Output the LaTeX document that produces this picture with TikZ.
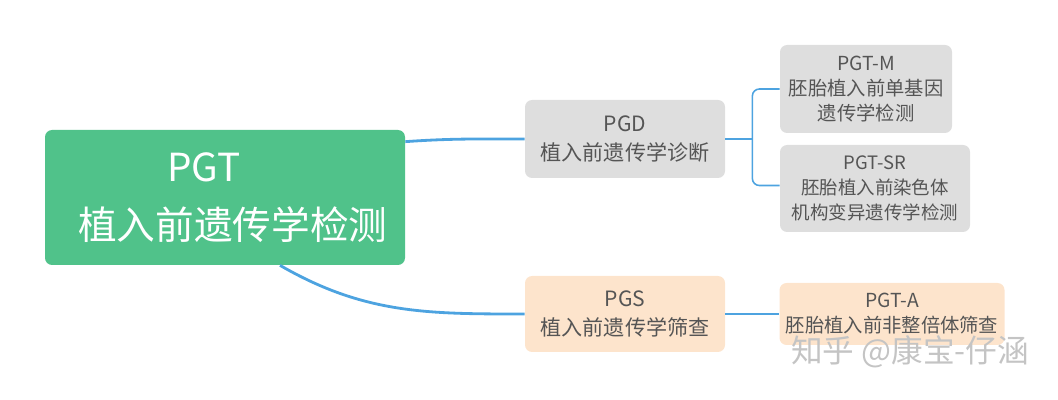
\documentclass[tikz,border=0pt]{standalone}
\usepackage{fontspec}
\setmainfont{Noto Sans CJK SC}
\usepackage{xcolor}
\usetikzlibrary{positioning,calc}
\definecolor{rootgreen}{HTML}{50C28A}
\definecolor{cardgray}{HTML}{DEDEDE}
\definecolor{cardpeach}{HTML}{FDE4CC}
\definecolor{inkgray}{HTML}{555555}
\definecolor{linkblue}{HTML}{4DA3E0}
\definecolor{markgray}{HTML}{C4C4C4}
\tikzset{
  rootcard/.style={fill=rootgreen,rounded corners=4pt,align=center,
                   text=white,inner sep=0pt,
                   minimum width=7.2cm,minimum height=2.7cm},
  graycard/.style={fill=cardgray,rounded corners=4pt,align=center,
                   text=inkgray,inner sep=0pt},
  peachcard/.style={fill=cardpeach,rounded corners=4pt,align=center,
                    text=inkgray,inner sep=0pt},
  mainlink/.style={draw=linkblue,line width=1.6pt},
  sublink/.style={draw=linkblue,line width=0.9pt,rounded corners=4pt}
}
\begin{document}
\begin{tikzpicture}[x=1cm,y=1cm]
    \path[use as bounding box] (0,0) rectangle (21.16,8);
    % root
    \node[rootcard,font=\fontsize{22}{33}\selectfont] (pgt) at (4.5,4.05)
      {PGT\hspace*{1.1em}\\\hspace*{0.4em}植入前遗传学检测};
    % second level
    \node[graycard,minimum width=4.0cm,minimum height=1.56cm,
          font=\fontsize{12}{17}\selectfont] (pgd) at (12.5,5.22)
      {PGD\\植入前遗传学诊断};
    \node[peachcard,minimum width=4.0cm,minimum height=1.52cm,
          font=\fontsize{12}{17}\selectfont] (pgs) at (12.5,1.72)
      {PGS\\植入前遗传学筛查};
    % third level
    \node[graycard,minimum width=3.44cm,minimum height=1.76cm,
          font=\fontsize{11}{14.2}\selectfont] (pgtm) at (17.32,6.22)
      {PGT-M\\胚胎植入前单基因\\遗传学检测};
    \node[graycard,minimum width=3.8cm,minimum height=1.74cm,
          font=\fontsize{10.5}{14.2}\selectfont] (pgtsr) at (17.5,4.23)
      {PGT-SR\\胚胎植入前染色体\\机构变异遗传学检测};
    \node[peachcard,minimum width=4.5cm,minimum height=1.24cm,
          font=\fontsize{11}{14.2}\selectfont] (pgta) at (17.84,1.72)
      {PGT-A\\胚胎植入前非整倍体筛查};
    % links
    \coordinate (pgtup) at ($(pgt.north east)+(0,-0.24)$);
    \coordinate (pgtdown) at ($(pgt.south)+(1.1,0)$);
    \draw[mainlink] (pgtup) to[out=4,in=180] (pgd.west);
    \draw[mainlink] (pgtdown) to[out=-30,in=180] (pgs.west);
    \coordinate (fork) at ($(pgd.east)+(0.54,0)$);
    \draw[sublink] (pgd.east) -- (fork);
    \draw[sublink] (pgtm.west) -| (fork) |- ($(pgtsr.west)+(0,0.06)$);
    \draw[sublink] (pgs.east) -- (pgta.west);
    % watermark
    \node[text=markgray,font=\fontsize{18}{22}\selectfont] (mark) at (18.2,0.96)
      {知乎 @康宝-仔涵};
  \end{tikzpicture}
\end{document}
